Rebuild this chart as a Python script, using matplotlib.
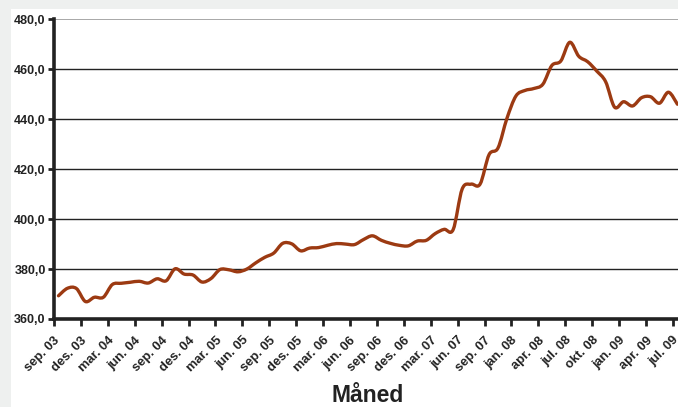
import matplotlib
matplotlib.use("Agg")
import matplotlib.pyplot as plt
from matplotlib.path import Path
from matplotlib.patches import PathPatch, Rectangle
import numpy as np

plt.rcParams['font.family'] = ['Liberation Sans', 'DejaVu Sans']

values = [369.3, 372.3, 372.2, 367.0, 368.7, 368.7, 373.8, 374.3, 374.7, 375.1,
          374.4, 376.1, 375.3, 380.1, 378.0, 377.6, 374.8, 376.2, 379.8, 379.7,
          378.9, 380.0, 382.5, 384.7, 386.4, 390.3, 390.1, 387.3, 388.4, 388.6,
          389.5, 390.2, 390.0, 389.8, 391.8, 393.3, 391.5, 390.3, 389.5, 389.3,
          391.2, 391.5, 394.2, 395.9, 395.8, 412.0, 414.0, 414.0, 425.8, 428.5,
          440.4, 449.3, 451.5, 452.3, 454.0, 461.5, 463.3, 470.8, 465.2, 463.0,
          459.3, 455.0, 444.8, 447.0, 445.3, 448.6, 449.0, 446.4, 450.8, 446.0]

tick_labels = ['sep. 03', 'des. 03', 'mar. 04', 'jun. 04', 'sep. 04', 'des. 04',
               'mar. 05', 'jun. 05', 'sep. 05', 'des. 05', 'mar. 06', 'jun. 06',
               'sep. 06', 'des. 06', 'mar. 07', 'jun. 07', 'sep. 07', 'jan. 08',
               'apr. 08', 'jul. 08', 'okt. 08', 'jan. 09', 'apr. 09', 'jul. 09']

y_ticks = [360, 380, 400, 420, 440, 460, 480]
x_title = 'Måned'

W, H = 678, 407
fig = plt.figure(figsize=(W / 100, H / 100), dpi=100)
fig.patch.set_facecolor('#eef0ef')
bg = Rectangle((11 / W, 0), 1 - 11 / W, 1 - 9 / H,
               transform=fig.transFigure, facecolor='white',
               edgecolor='none', zorder=-10)
fig.add_artist(bg)

n = len(values)
ax_left = 54 / W
ax_bottom = (H - 319) / H
ax_height = (319 - 19.3) / H
ax_width = n * 8.97 / W
ax = fig.add_axes([ax_left, ax_bottom, ax_width, ax_height])
ax.set_facecolor('none')

# Smoothed line (Bezier segments like a spreadsheet "smoothed line")
xs = np.arange(n) + 0.5
ys = np.array(values, dtype=float)
verts = [(xs[0], ys[0])]
codes = [Path.MOVETO]
for i in range(n - 1):
    p0 = np.array([xs[max(i - 1, 0)], ys[max(i - 1, 0)]])
    p1 = np.array([xs[i], ys[i]])
    p2 = np.array([xs[i + 1], ys[i + 1]])
    p3 = np.array([xs[min(i + 2, n - 1)], ys[min(i + 2, n - 1)]])
    c1 = p1 + (p2 - p0) / 6.0
    c2 = p2 - (p3 - p1) / 6.0
    verts += [tuple(c1), tuple(c2), tuple(p2)]
    codes += [Path.CURVE4, Path.CURVE4, Path.CURVE4]
ax.add_patch(PathPatch(Path(verts, codes), facecolor='none',
                       edgecolor='#9c3a12', linewidth=2.4, zorder=3,
                       capstyle='round', joinstyle='round'))

ax.set_xlim(0, n)
ax.set_ylim(360, 480)

for yv in y_ticks[1:-1]:
    ax.axhline(yv, color='#222222', linewidth=1.0, zorder=1)
ax.axhline(480, color='#999999', linewidth=1.2, zorder=1)

ax.set_yticks(y_ticks)
ax.set_yticklabels([f"{v:.1f}".replace('.', ',') for v in y_ticks],
                   fontsize=9, fontweight='bold', color='#222222')
ax.set_xticks(np.arange(0, 3 * len(tick_labels), 3))
ax.set_xticklabels(tick_labels, rotation=45, ha='right', va='top',
                   rotation_mode='anchor', fontsize=9.3, fontweight='bold',
                   color='#222222')

ax.tick_params(axis='y', direction='out', length=4, width=2, color='#222222', pad=2)
ax.tick_params(axis='x', direction='out', length=5, width=2, color='#222222', pad=6)

for s in ['top', 'right']:
    ax.spines[s].set_visible(False)
for s in ['left', 'bottom']:
    ax.spines[s].set_linewidth(2.6)
    ax.spines[s].set_color('#222222')
    ax.spines[s].set_zorder(4)

fig.text(367.5 / W, 1 - 396 / H, x_title, ha='center', va='center',
         fontsize=16.5, fontweight='bold', color='#222222')

fig.savefig('out.png', dpi=100, facecolor=fig.get_facecolor())
